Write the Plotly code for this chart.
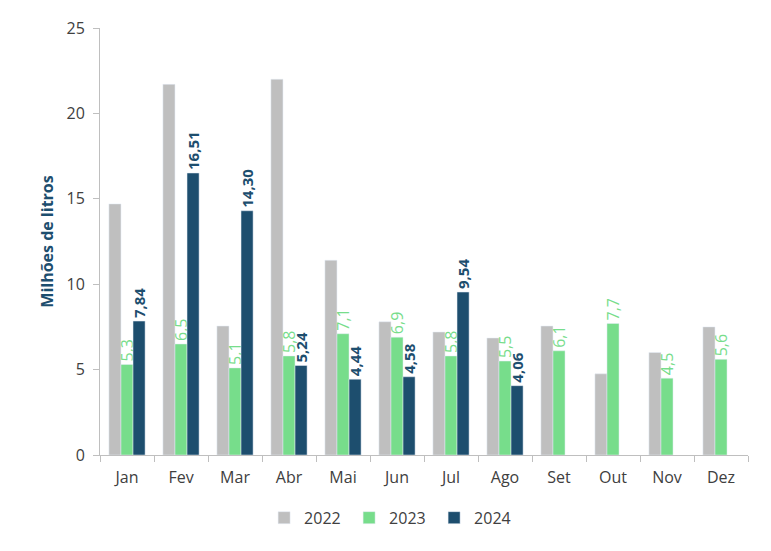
import plotly.graph_objects as go

meses = ["Jan", "Fev", "Mar", "Abr", "Mai", "Jun", "Jul", "Ago", "Set", "Out", "Nov", "Dez"]
v2022 = [14.7, 21.7, 7.55, 22.0, 11.4, 7.8, 7.2, 6.85, 7.55, 4.75, 6.0, 7.5]
v2023 = [5.3, 6.5, 5.1, 5.8, 7.1, 6.9, 5.8, 5.5, 6.1, 7.7, 4.5, 5.6]
v2024 = [7.84, 16.51, 14.30, 5.24, 4.44, 4.58, 9.54, 4.06, None, None, None, None]

FONT = "Open Sans, Noto Sans, sans-serif"
CINZA = "#BFBFBF"
VERDE = "#77DD8B"
AZUL = "#1D4E6E"

def fmt(v, casas):
    return "" if v is None else f"{v:.{casas}f}".replace(".", ",")

fig = go.Figure()
fig.add_trace(go.Bar(x=meses, y=v2022, name="2022", marker_color=CINZA))
fig.add_trace(go.Bar(
    x=meses, y=v2023, name="2023", marker_color=VERDE,
    text=[fmt(v, 1) for v in v2023], textposition="outside", textangle=-90,
    constraintext="none",
    textfont=dict(color=VERDE, size=16, family=FONT), cliponaxis=False
))
fig.add_trace(go.Bar(
    x=meses, y=v2024, name="2024", marker_color=AZUL,
    text=[f"<b>{fmt(v, 2)}</b>" if v is not None else "" for v in v2024],
    textposition="outside", textangle=-90, constraintext="none",
    textfont=dict(color=AZUL, size=15, family=FONT), cliponaxis=False
))

# a página tem margem de 8px no body, por isso as margens estão compensadas
fig.update_layout(
    width=771, height=551, barmode="group", bargap=0.33, bargroupgap=0,
    plot_bgcolor="white", paper_bgcolor="white",
    font=dict(family=FONT, size=16, color="#404040"),
    margin=dict(l=92, r=31, t=20, b=104),
    legend=dict(orientation="h", x=0.45, xanchor="center", y=-0.147, yanchor="middle",
                font=dict(size=16, color="#404040"), traceorder="normal",
                itemwidth=30, entrywidth=40),
    xaxis=dict(showline=True, linecolor="#BFBFBF", ticks="outside", tickson="boundaries",
               ticklen=6, tickcolor="#BFBFBF", showgrid=False, automargin=False,
               ticklabelstandoff=8),
    yaxis=dict(range=[0, 25], dtick=5, showline=True, linecolor="#BFBFBF", ticks="outside",
               ticklen=6, tickcolor="#BFBFBF", showgrid=False, zeroline=False, automargin=False,
               ticklabelstandoff=5,
               title=dict(text="<b>Milhões de litros</b>", font=dict(color=AZUL, size=16), standoff=8)),
)

fig.write_html("out.html")
